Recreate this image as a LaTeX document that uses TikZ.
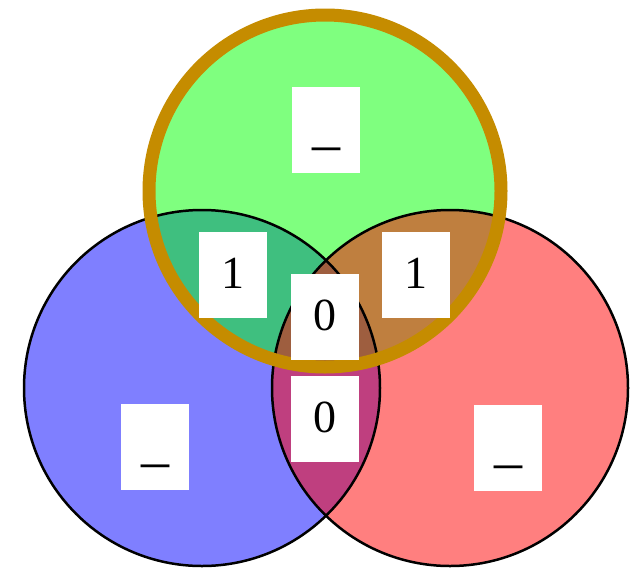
\documentclass[tikz,border=0pt]{standalone}
\usepackage{fontspec}
\setmainfont{Liberation Serif}
\definecolor{ring}{RGB}{197,140,0}
\tikzset{lbl/.style={fill=white, inner sep=0pt, minimum width=68pt, minimum height=86pt,
  text height=31pt, text depth=5pt, font=\fontsize{46}{50}\selectfont},
  blank/.style={lbl, font=\fontsize{56}{60}\selectfont}}
\begin{document}
\begin{tikzpicture}
		[x=1pt, y=-1pt]
		\useasboundingbox (0,0) rectangle (634,568);
		\coordinate (B) at (202,388);
		\coordinate (G) at (325,191);
		\coordinate (R) at (450,388);
		\fill[blue, fill opacity=0.5] (B) circle (178);
		\fill[green, fill opacity=0.5] (G) circle (176);
		\fill[red, fill opacity=0.5] (R) circle (178);
		\draw[line width=2.5pt] (B) circle (178);
		\draw[line width=2.5pt] (R) circle (178);
		\draw[ring, line width=13pt] (G) circle (176);
		\node[blank] (g) at (326,130) {\_};
		\node[lbl] (gb) at (233,275) {1};
		\node[lbl] (gr) at (416,275) {1};
		\node[lbl] (gbr) at (325,317) {0};
		\node[lbl] (br) at (325,419) {0};
		\node[blank] (b) at (155,447) {\_};
		\node[blank] (r) at (508,448) {\_};
	\end{tikzpicture}
\end{document}
